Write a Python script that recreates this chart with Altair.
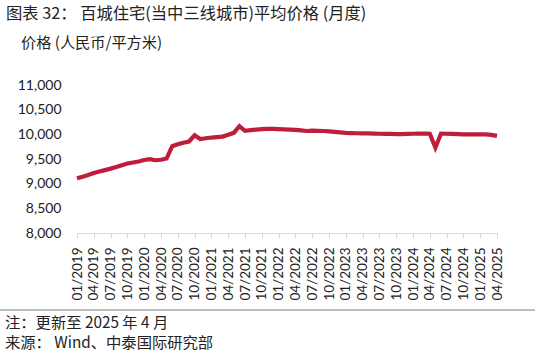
import altair as alt
import pandas as pd

# ---- data ----
years = [2019, 2020, 2021, 2022, 2023, 2024, 2025]
months = [f"{m:02d}/{y}" for y in years for m in range(1, 13)][:76]  # 01/2019 .. 04/2025

prices = [
    9110, 9140, 9175, 9215, 9245, 9275, 9305, 9340, 9375, 9410, 9430, 9450,   # 2019
    9480, 9495, 9475, 9485, 9510, 9760, 9800, 9830, 9855, 9980, 9905, 9920,   # 2020
    9935, 9945, 9955, 9990, 10030, 10165, 10070, 10085, 10095, 10105, 10110, 10110,  # 2021
    10105, 10100, 10095, 10090, 10080, 10068, 10075, 10072, 10068, 10060, 10050, 10040,  # 2022
    10030, 10025, 10022, 10020, 10018, 10015, 10012, 10010, 10008, 10006, 10005, 10008,  # 2023
    10012, 10015, 10015, 10012, 9730, 10015, 10012, 10010, 10005, 10000, 9998, 10000,  # 2024
    10002, 9998, 9990, 9968,  # 2025
]

tick_labels = months[::3]
y_ticks = [8000, 8500, 9000, 9500, 10000, 10500, 11000]

title_text = "图表 32： 百城住宅(当中三线城市)平均价格 (月度)"
unit_text = "价格 (人民币/平方米)"
footer_text = "注：更新至 2025 年 4 月\n来源： Wind、中泰国际研究部"

df = pd.DataFrame({"month": months, "price": prices})

CJK = "Noto Sans CJK SC"
NUM = "Lato"
RED = "#BE1E3C"

line = alt.Chart(df).mark_line(color=RED, strokeWidth=4.2, strokeJoin="miter").encode(
    x=alt.X(
        "month:O",
        sort=months,
        scale=alt.Scale(type="point", padding=0),
        axis=alt.Axis(
            values=tick_labels,
            title=None,
            labelAngle=-90,
            labelFont=NUM,
            labelFontSize=13.5,
            labelColor="#222222",
            labelPadding=9,
            tickSize=5,
            tickColor="#D9D9D9",
            domainColor="#D9D9D9",
            domainWidth=1,
            grid=False,
        ),
    ),
    y=alt.Y(
        "price:Q",
        scale=alt.Scale(domain=[8000, 11000], nice=False, zero=False),
        axis=alt.Axis(
            values=y_ticks,
            format=",.0f",
            title=None,
            domain=False,
            ticks=False,
            grid=False,
            labelFont=NUM,
            labelFontSize=14,
            labelColor="#222222",
            labelPadding=16,
        ),
    ),
)

def text_layer(txt, x, y, size, font=CJK, **kw):
    return alt.Chart(pd.DataFrame({"t": [txt]})).mark_text(
        align="left", baseline="middle", font=font, fontSize=size, color="#222222", **kw
    ).encode(text="t:N", x=alt.value(x), y=alt.value(y))

title = text_layer(title_text, -71, -71, 16.3)
unit = text_layer(unit_text, -56, -42, 15.2)
footer = text_layer(footer_text, -72, 237.7, 15.3, lineBreak="\n", lineHeight=20)

rule = alt.Chart(pd.DataFrame({"a": [0]})).mark_rule(color="#7F7F7F", strokeWidth=1).encode(
    x=alt.value(-77), x2=alt.value(458), y=alt.value(225)
)

chart = (
    alt.layer(line, title, unit, footer, rule)
    .properties(
        width=420,
        height=148,
        padding={"left": 77, "top": 85, "right": 42, "bottom": 122},
        autosize=alt.AutoSizeParams(type="none"),
        background="white",
    )
    .configure_view(stroke=None)
)

chart.save("out.html", embed_options={"renderer": "svg", "actions": False})
